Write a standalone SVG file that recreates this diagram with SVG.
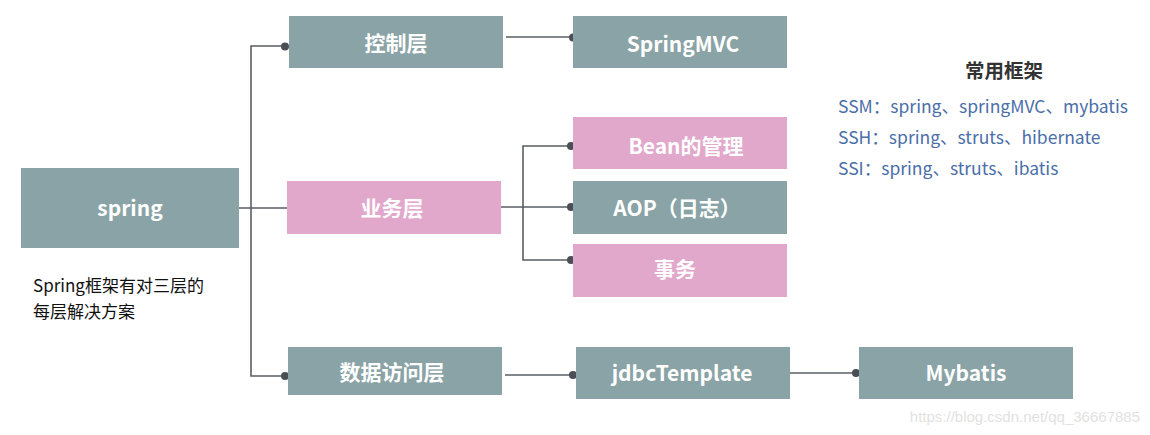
<svg xmlns="http://www.w3.org/2000/svg" width="1150" height="435" viewBox="0 0 1150 435">
<style>
.g{fill:#8aa3a6}
.p{fill:#e2a8cb}
.t{font-family:"Noto Sans CJK SC","Noto Sans",sans-serif;font-weight:bold;font-size:21px;fill:#fff;text-anchor:middle}
.c{stroke:#5a5e63;stroke-width:1.6;fill:none}
.d{fill:#4a4f55}
.f{font-family:"Noto Sans CJK SC","Noto Sans",sans-serif;font-size:17.5px;fill:#4a6ea8}
</style>
<rect width="1150" height="435" fill="#fff"/>
<g id="connectors">
<path class="c" d="M239 208H287M285 46H251V376H285"/>
<path class="c" d="M506 37H573"/>
<path class="c" d="M501 207H573M571 146H523V260H571"/>
<path class="c" d="M505 375H573"/>
<path class="c" d="M790 373H856"/>
<circle class="d" cx="285" cy="46.5" r="4"/>
<circle class="d" cx="285" cy="376" r="4"/>
<circle class="d" cx="573" cy="37.5" r="4"/>
<circle class="d" cx="571" cy="146" r="4"/>
<circle class="d" cx="571" cy="207" r="4"/>
<circle class="d" cx="571" cy="260" r="4"/>
<circle class="d" cx="573" cy="375" r="4"/>
<circle class="d" cx="856" cy="373" r="4"/>
</g>
<g id="spring"><rect class="g" x="21" y="168" width="218" height="80"/><text class="t" x="130" y="216">spring</text></g>
<g id="kongzhi"><rect class="g" x="289" y="16" width="214" height="52"/><text class="t" x="396" y="51">控制层</text></g>
<g id="springmvc"><rect class="g" x="573" y="16" width="214" height="52"/><text class="t" x="683" y="52">SpringMVC</text></g>
<g id="yewu"><rect class="p" x="287" y="181" width="214" height="53"/><text class="t" x="392" y="216">业务层</text></g>
<g id="bean"><rect class="p" x="573" y="117" width="214" height="52"/><text class="t" x="686" y="154">Bean的管理</text></g>
<g id="aop"><rect class="g" x="573" y="181" width="214" height="53"/><text class="t" x="677" y="216">AOP（日志）</text></g>
<g id="shiwu"><rect class="p" x="573" y="244" width="214" height="53"/><text class="t" x="675" y="277">事务</text></g>
<g id="shuju"><rect class="g" x="288" y="347" width="214" height="48"/><text class="t" x="392" y="380">数据访问层</text></g>
<g id="jdbc"><rect class="g" x="576" y="347" width="214" height="52"/><text class="t" x="682" y="381">jdbcTemplate</text></g>
<g id="mybatis"><rect class="g" x="859" y="347" width="214" height="52"/><text class="t" x="966" y="381">Mybatis</text></g>
<g id="note">
<text x="33" y="292" font-family="'Noto Sans CJK SC','Noto Sans',sans-serif" font-size="17" fill="#111">Spring框架有对三层的</text>
<text x="33" y="318" font-family="'Noto Sans CJK SC','Noto Sans',sans-serif" font-size="17" fill="#111">每层解决方案</text>
</g>
<g id="frameworks">
<text x="1004" y="78" text-anchor="middle" font-family="'Noto Sans CJK SC',sans-serif" font-size="19.5" font-weight="bold" fill="#333">常用框架</text>
<text class="f" x="838" y="113">SSM：spring、springMVC、mybatis</text>
<text class="f" x="838" y="144">SSH：spring、struts、hibernate</text>
<text class="f" x="838" y="175">SSI：spring、struts、ibatis</text>
</g>
<text x="1140" y="422" text-anchor="end" font-family="'Liberation Sans',sans-serif" font-size="15" fill="#e2e2e2">https://blog.csdn.net/qq_36667885</text>
</svg>
